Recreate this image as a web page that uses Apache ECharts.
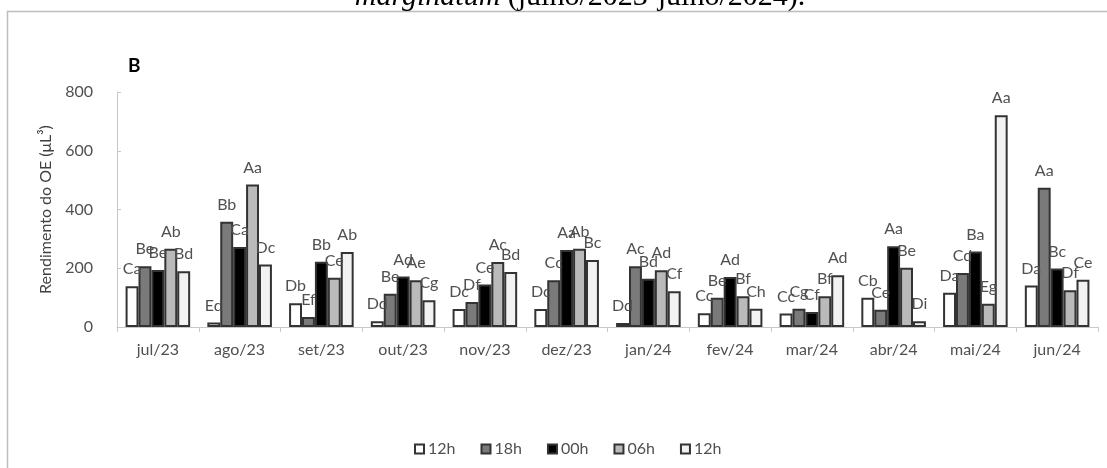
<!DOCTYPE html>
<html>
<head>
<meta charset="utf-8">
<title>Rendimento do OE</title>
<script src="https://cdn.jsdelivr.net/npm/echarts@6/dist/echarts.min.js"></script>
<style>
  html, body { margin: 0; padding: 0; background: #ffffff; }
  #chart { width: 1107px; height: 468px; }
</style>
</head>
<body>
<div id="chart"></div>
<script>
// Months of sampling
const months = ['jul/23', 'ago/23', 'set/23', 'out/23', 'nov/23', 'dez/23',
                'jan/24', 'fev/24', 'mar/24', 'abr/24', 'mai/24', 'jun/24'];

// Harvest times (two separate 12h collections)
const seriesNames = ['12h', '18h', '00h', '06h', '12h '];

// Essential oil yield (µL³) per harvest time
const yield12a = [139, 15, 81, 20, 61, 61, 14, 47, 46, 100, 117, 141];
const yield18  = [207, 358, 34, 113, 85, 159, 207, 100, 62, 59, 184, 474];
const yield00  = [194, 272, 222, 172, 145, 262, 164, 170, 51, 275, 257, 199];
const yield06  = [266, 485, 168, 159, 221, 266, 193, 105, 105, 202, 79, 125];
const yield12b = [190, 213, 255, 91, 187, 228, 122, 62, 176, 20, 721, 161];

// Significance letters shown above each bar
const letters12a = ['Ca', 'Ed', 'Db', 'Dd', 'Dc', 'Dc', 'Dd', 'Cc', 'Cc', 'Cb', 'Da', 'Da'];
const letters18  = ['Be', 'Bb', 'Ef', 'Be', 'Df', 'Cc', 'Ac', 'Be', 'Cg', 'Ce', 'Cd', 'Aa'];
const letters00  = ['Be', 'Ca', 'Bb', 'Ad', 'Ce', 'Aa', 'Bd', 'Ad', 'Cf', 'Aa', 'Ba', 'Bc'];
const letters06  = ['Ab', 'Aa', 'Ce', 'Ae', 'Ac', 'Ab', 'Ad', 'Bf', 'Bf', 'Be', 'Eg', 'Df'];
const letters12b = ['Bd', 'Dc', 'Ab', 'Cg', 'Bd', 'Bc', 'Cf', 'Ch', 'Ad', 'Di', 'Aa', 'Ce'];

// Y axis ticks
const yTicks = { min: 0, max: 800, interval: 200 };

const values = [yield12a, yield18, yield00, yield06, yield12b];
const letters = [letters12a, letters18, letters00, letters06, letters12b];
const fills = ['#ffffff', '#7a7a7a', '#000000', '#bababa', '#f2f2f2'];

const FONT = 'Lato, "Liberation Sans", sans-serif';
const TEXT = '#505050';
const FS = 16;

const chart = echarts.init(document.getElementById('chart'), null, { renderer: 'canvas' });

const series = seriesNames.map((name, i) => ({
  name: name,
  type: 'bar',
  barGap: '0%',
  barCategoryGap: '21%',
  data: values[i],
  itemStyle: { color: fills[i], borderColor: '#333333', borderWidth: 2 },
  label: {
    show: true,
    position: 'top',
    distance: 9,
    fontFamily: FONT,
    fontSize: FS,
    color: TEXT,
    formatter: (p) => letters[i][p.dataIndex]
  },
  emphasis: { disabled: true },
  animation: false
}));

chart.setOption({
  animation: false,
  backgroundColor: '#ffffff',
  textStyle: { fontFamily: FONT },
  graphic: [
    {
      type: 'rect',
      shape: { x: 7.5, y: 11.5, width: 1200, height: 600 },
      style: { fill: null, stroke: '#bdbdbd', lineWidth: 1.5 },
      silent: true
    },
    {
      type: 'text',
      x: 580,
      y: -3,
      style: {
        text: '{i|marginatum} (julho/2023-julho/2024).',
        rich: {
          i: { fontStyle: 'italic', fontFamily: '"Liberation Serif", "DejaVu Serif", serif', fontSize: 30, fill: '#000' }
        },
        fontFamily: '"Liberation Serif", "DejaVu Serif", serif',
        fontSize: 30,
        fill: '#000',
        align: 'center',
        verticalAlign: 'middle'
      },
      silent: true
    },
    {
      type: 'text',
      x: 128,
      y: 56,
      style: {
        text: 'B',
        fontFamily: FONT,
        fontWeight: 'bold',
        fontSize: 19,
        fill: '#000'
      },
      silent: true
    }
  ],
  legend: {
    data: seriesNames,
    left: 409,
    top: 436,
    itemWidth: 9,
    itemHeight: 9,
    itemGap: 25,
    icon: 'rect',
    selectedMode: false,
    textStyle: { fontFamily: FONT, fontSize: FS, color: TEXT, padding: [0, 0, 0, -1] }
  },
  grid: { left: 117, right: 9, top: 92, bottom: 141, containLabel: false },
  xAxis: {
    type: 'category',
    data: months,
    axisLine: { lineStyle: { color: '#c8c8c8', width: 1 } },
    axisTick: { show: true, alignWithLabel: false, length: 5, lineStyle: { color: '#c8c8c8' } },
    axisLabel: { fontFamily: FONT, fontSize: FS, color: TEXT, margin: 15 }
  },
  yAxis: {
    type: 'value',
    min: yTicks.min,
    max: yTicks.max,
    interval: yTicks.interval,
    name: 'Rendimento do OE (μL³)',
    nameLocation: 'middle',
    nameGap: 60,
    nameTextStyle: { fontFamily: FONT, fontSize: FS, color: '#404040' },
    axisLine: { show: true, lineStyle: { color: '#c8c8c8', width: 1 } },
    axisTick: { show: true, inside: true, length: 4, lineStyle: { color: '#c8c8c8' } },
    splitLine: { show: false },
    axisLabel: { fontFamily: FONT, fontSize: FS, color: TEXT, margin: 24 }
  },
  series: series
});
</script>
</body>
</html>
